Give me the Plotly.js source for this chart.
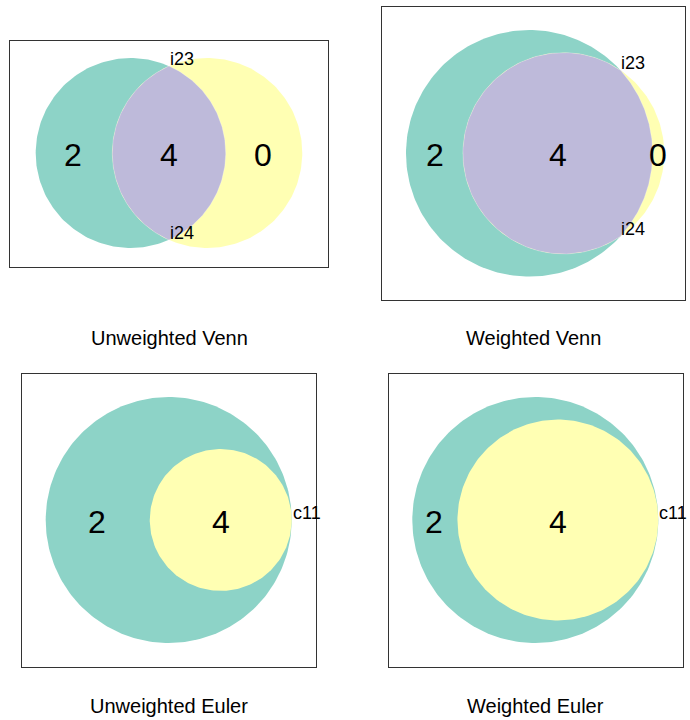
<!DOCTYPE html>
<html>
<head>
<meta charset="utf-8">
<script src="https://cdn.plot.ly/plotly-3.0.1.min.js"></script>
<style>html,body{margin:0;padding:0;background:#fff;}#chart{width:690px;height:720px;}</style>
</head>
<body>
<div id="chart"></div>
<script>
// ---- data ----
const panelTitles = ['Unweighted Venn', 'Weighted Venn', 'Unweighted Euler', 'Weighted Euler'];
const vennRegionCounts = [2, 4, 0];      // A only, A&B, B only
const eulerRegionCounts = [2, 4];        // A only, A&B (B inside A)
const vennPointLabels = ['i23', 'i24'];
const eulerPointLabels = ['c11'];

// ---- style ----
const colA = '#8DD3C7', colB = '#FFFFB3', colAB = '#BEBADA';
const FONT = 'Liberation Sans, Arial, Helvetica, sans-serif';
const W = 690, H = 720;

// weighted radius ratio from set sizes
const sizeA = vennRegionCounts[0] + vennRegionCounts[1];
const sizeB = vennRegionCounts[1] + vennRegionCounts[2];
const wRatio = Math.sqrt(sizeB / sizeA);

// panel layout (box in page px, anchor = centre of set A circle, s = px per unit radius)
const panels = [
  {kind: 'venn', box: [10, 328, 40.7, 266.7], anchor: [130.7, 153], s: 95, rB: 1, d: 0.806,
   labX: [-0.607, null, 1.393], titleY: 338},
  {kind: 'venn', box: [381.7, 685, 6.7, 300], anchor: [529.3, 153.3], s: 123.3, rB: wRatio, d: 0.278,
   labX: [-0.765, 0.233, 1.044], titleY: 338},
  {kind: 'euler', box: [22.3, 316, 374, 666.7], anchor: [168.7, 520], s: 123, rB: 0.577, d: 1 - 0.577,
   labX: [-0.583, null], titleY: 706},
  {kind: 'euler', box: [389, 682.7, 374, 666.7], anchor: [535.3, 520], s: 123, rB: wRatio, d: 1 - wRatio,
   labX: [-0.821, null], titleY: 706}
];

function arc(cx, cy, r, a0, a1, n) {
  const xs = [], ys = [];
  for (let i = 0; i <= n; i++) {
    const t = a0 + (a1 - a0) * i / n;
    xs.push(cx + r * Math.cos(t));
    ys.push(cy + r * Math.sin(t));
  }
  return [xs, ys];
}

const traces = [];
const annotations = [];
const layout = {
  width: W, height: H,
  margin: {l: 0, r: 0, t: 0, b: 0},
  paper_bgcolor: '#fff', plot_bgcolor: '#fff',
  showlegend: false,
  hovermode: false,
  font: {family: FONT, color: '#000'}
};

panels.forEach((p, i) => {
  const k = i + 1;
  const xa = k === 1 ? 'x' : 'x' + k;
  const ya = k === 1 ? 'y' : 'y' + k;
  const xName = k === 1 ? 'xaxis' : 'xaxis' + k;
  const yName = k === 1 ? 'yaxis' : 'yaxis' + k;
  const [x0, x1, y0, y1] = p.box;
  const [ax, ay] = p.anchor;
  const axisCommon = {showgrid: false, zeroline: false, showticklabels: false, ticks: '',
    showline: true, mirror: true, linecolor: '#333', linewidth: 1, fixedrange: true};
  layout[xName] = Object.assign({}, axisCommon, {
    domain: [x0 / W, x1 / W], range: [(x0 - ax) / p.s, (x1 - ax) / p.s], anchor: ya});
  layout[yName] = Object.assign({}, axisCommon, {
    domain: [1 - y1 / H, 1 - y0 / H], range: [(ay - y1) / p.s, (ay - y0) / p.s], anchor: xa});

  const rA = 1, rB = p.rB, d = p.d;
  const N = 240;
  const cA = arc(0, 0, rA, 0, 2 * Math.PI, N);
  const cB = arc(d, 0, rB, 0, 2 * Math.PI, N);
  traces.push({type: 'scatter', mode: 'lines', x: cA[0], y: cA[1], fill: 'toself', fillcolor: colA,
    line: {width: 0, color: colA}, xaxis: xa, yaxis: ya, hoverinfo: 'skip'});
  traces.push({type: 'scatter', mode: 'lines', x: cB[0], y: cB[1], fill: 'toself', fillcolor: colB,
    line: {width: 0, color: colB}, xaxis: xa, yaxis: ya, hoverinfo: 'skip'});

  const numFont = {family: FONT, size: 32, color: '#000'};
  const ptFont = {family: FONT, size: 18, color: '#000'};

  if (p.kind === 'venn') {
    const xi = (d * d + rA * rA - rB * rB) / (2 * d);
    const h = Math.sqrt(rA * rA - xi * xi);
    const tA = Math.atan2(h, xi);
    const tB = Math.atan2(h, xi - d);
    const a1 = arc(0, 0, rA, -tA, tA, 120);
    const b1 = arc(d, 0, rB, tB, 2 * Math.PI - tB, 160);
    traces.push({type: 'scatter', mode: 'lines', x: a1[0].concat(b1[0]), y: a1[1].concat(b1[1]),
      fill: 'toself', fillcolor: colAB, line: {width: 0.5, color: 'rgba(255,255,255,0.5)'},
      xaxis: xa, yaxis: ya, hoverinfo: 'skip'});
    const labX = [p.labX[0], p.labX[1] === null ? xi : p.labX[1], p.labX[2]];
    vennRegionCounts.forEach((c, j) => {
      annotations.push({xref: xa, yref: ya, x: labX[j], y: 0, text: String(c), showarrow: false,
        font: numFont, xanchor: 'center', yanchor: 'middle', yshift: -2});
    });
    [h, -h].forEach((yy, j) => {
      annotations.push({xref: xa, yref: ya, x: xi, y: yy, text: vennPointLabels[j], showarrow: false,
        font: ptFont, xanchor: 'left', yanchor: 'bottom', yshift: -5, xshift: -1});
    });
  } else {
    const labX = [p.labX[0], d];
    eulerRegionCounts.forEach((c, j) => {
      annotations.push({xref: xa, yref: ya, x: labX[j], y: 0, text: String(c), showarrow: false,
        font: numFont, xanchor: 'center', yanchor: 'middle', yshift: -2});
    });
    annotations.push({xref: xa, yref: ya, x: rA, y: 0, text: eulerPointLabels[0], showarrow: false,
      font: ptFont, xanchor: 'left', yanchor: 'bottom', yshift: -5, xshift: -1});
  }

  annotations.push({xref: 'paper', yref: 'paper', x: ((x0 + x1) / 2) / W, y: 1 - p.titleY / H,
    text: panelTitles[i], showarrow: false, font: {family: FONT, size: 20, color: '#000'},
    xanchor: 'center', yanchor: 'middle'});
});

layout.annotations = annotations;
Plotly.newPlot('chart', traces, layout, {staticPlot: true, displayModeBar: false});
</script>
</body>
</html>
